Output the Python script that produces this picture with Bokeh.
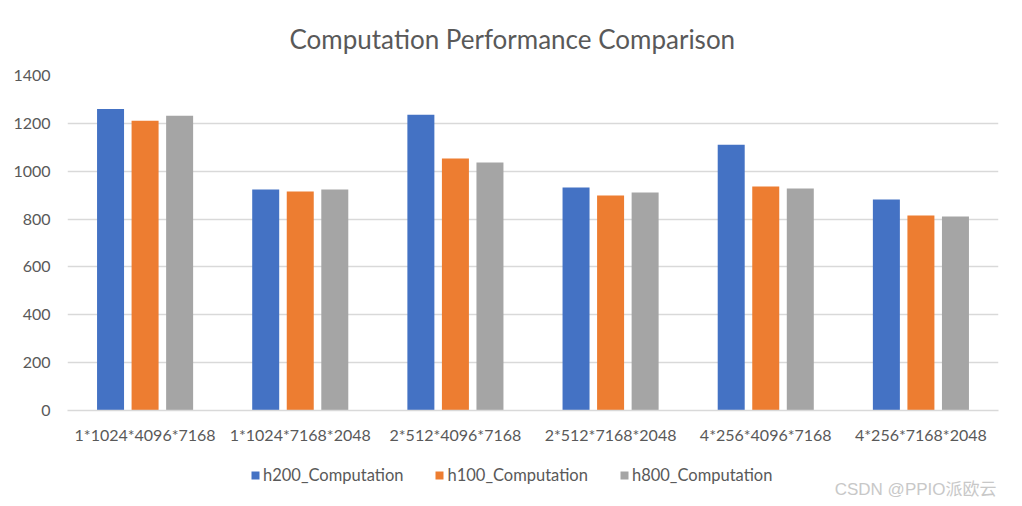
from bokeh.plotting import figure
from bokeh.layouts import column
from bokeh.models import (ColumnDataSource, FactorRange, Legend, LegendItem, Label,
                          SingleIntervalTicker, Range1d)
from bokeh.transform import dodge
from bokeh.embed import file_html
from bokeh.resources import INLINE

categories = ["1*1024*4096*7168", "1*1024*7168*2048", "2*512*4096*7168",
              "2*512*7168*2048", "4*256*4096*7168", "4*256*7168*2048"]
h200 = [1260, 924, 1236, 932, 1111, 882]
h100 = [1211, 915, 1053, 899, 936, 815]
h800 = [1232, 924, 1036, 911, 928, 811]
series_names = ["h200_Computation", "h100_Computation", "h800_Computation"]
colors = ["#4472C4", "#ED7D31", "#A5A5A5"]
y_ticks_step = 200
title_text = "Computation Performance Comparison"
watermark_text = "CSDN @PPIO派欧云"

FONT = "Lato"
TXT = "#595959"
W = 1014

src = ColumnDataSource(dict(cat=categories, h200=h200, h100=h100, h800=h800))
fields = ["h200", "h100", "h800"]
w = 0.174
off = 0.2226
offsets = [-off, 0, off]

# ---- main chart ----
p = figure(width=W, height=446, x_range=FactorRange(*categories),
           y_range=Range1d(0, 1400), output_backend="svg", toolbar_location=None,
           min_border_left=67, min_border_right=16, min_border_top=75, min_border_bottom=35)
p.outline_line_color = None
p.title.text = title_text
p.title.text_font = FONT
p.title.text_font_size = "26px"
p.title.text_font_style = "normal"
p.title.text_color = TXT
p.title.text_line_height = 1.0
p.title.align = "left"
p.title.offset = 222
p.title.standoff = 41

for field, col, o in zip(fields, colors, offsets):
    p.vbar(x=dodge("cat", o, range=p.x_range), top=field, width=w, source=src,
           fill_color=col, line_color=None)

p.yaxis.ticker = SingleIntervalTicker(interval=y_ticks_step)
p.xgrid.grid_line_color = None
p.ygrid.grid_line_color = "#D9D9D9"
p.ygrid.grid_line_width = 1.3
p.yaxis.axis_line_color = None
p.yaxis.major_tick_line_color = None
p.yaxis.minor_tick_line_color = None
p.xaxis.axis_line_color = "#D9D9D9"
p.xaxis.axis_line_width = 1.3
p.xaxis.major_tick_line_color = None
p.xaxis.minor_tick_line_color = None
for ax in (p.xaxis, p.yaxis):
    ax.major_label_text_font = FONT
    ax.major_label_text_color = TXT
    ax.major_label_text_font_size = "16px"
p.yaxis.major_label_standoff = 11
p.xaxis.major_label_standoff = 8
p.x_range.range_padding = 0
p.x_range.group_padding = 0

# ---- legend + watermark strip (same series, drawn out of view) ----
p2 = figure(width=W, height=52, x_range=p.x_range, y_range=Range1d(2000, 2052),
            output_backend="svg", toolbar_location=None, title=None,
            x_axis_location=None, y_axis_location=None,
            min_border_left=67, min_border_right=16, min_border_top=0, min_border_bottom=0)
p2.grid.visible = False
p2.outline_line_color = None
rs = [p2.vbar(x=dodge("cat", o, range=p.x_range), top=field, width=w, source=src,
              fill_color=col, line_color=None)
      for field, col, o in zip(fields, colors, offsets)]
legend = Legend(items=[LegendItem(label=n, renderers=[r]) for n, r in zip(series_names, rs)],
                orientation="horizontal", location=(183, 13),
                label_text_font=FONT, label_text_font_size="16.5px", label_text_color=TXT,
                glyph_width=10, glyph_height=10, label_standoff=3, spacing=31,
                padding=0, margin=0, border_line_color=None, background_fill_alpha=0)
p2.add_layout(legend, "center")
p2.add_layout(Label(x=929, y=9, x_units="screen", y_units="screen", text=watermark_text,
                    text_font="Liberation Sans, Noto Sans CJK SC",
                    text_font_size="17px", text_color="#C8C8C8", text_align="right",
                    text_baseline="alphabetic"))

layout = column(p, p2, spacing=0)
open("out.html", "w").write(file_html(layout, INLINE))
